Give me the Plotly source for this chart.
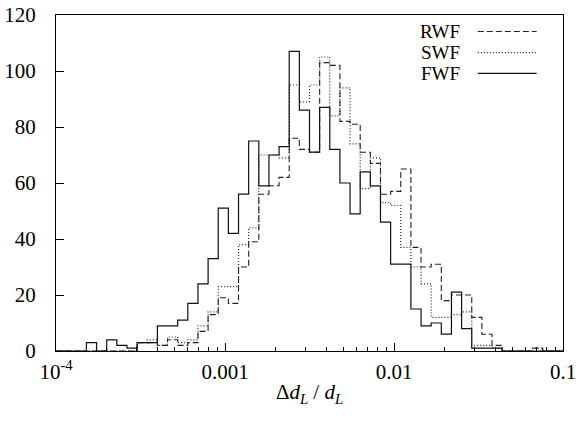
import numpy as np
import plotly.graph_objects as go

# Histogram definition: 50 log-spaced bins over [1e-4, 0.1]
bin_lo = 1e-4
n_bins = 50
dlog = 0.06  # decades per bin

# Counts per bin (k = 0..49)
fwf = [0, 0, 0, 3, 0, 4, 2, 1, 3, 3,
       9, 9, 11, 17, 24, 33, 51, 42, 56, 75,
       59, 70, 73, 107, 86, 71, 87, 72, 60, 49,
       64, 59, 46, 31, 31, 15, 9, 10, 6, 21,
       8, 1, 1, 1, 0, 0, 0, 0, 0, 0]
swf = [0, 0, 0, 0, 0, 0, 0, 0, 3, 4,
       2, 5, 3, 4, 9, 14, 23, 23, 38, 44,
       70, 70, 69, 95, 89, 95, 105, 84, 94, 74,
       58, 69, 53, 52, 37, 30, 24, 12, 12, 13,
       14, 2, 2, 1, 0, 0, 0, 1, 0, 0]
rwf = [0, 0, 0, 0, 0, 0, 0, 0, 3, 3,
       2, 4, 2, 3, 7, 13, 19, 17, 30, 39,
       56, 59, 62, 76, 72, 71, 103, 102, 82, 81,
       71, 67, 56, 57, 65, 37, 30, 31, 18, 20,
       20, 12, 6, 2, 0, 0, 0, 1, 0, 0]

series_names = ["RWF", "SWF", "FWF"]
x_tickvals = [1e-4, 1e-3, 1e-2, 1e-1]
x_ticktext = ["10<sup>-4</sup>", "0.001", "0.01", "0.1"]
y_tickvals = [0, 20, 40, 60, 80, 100, 120]

edges = bin_lo * 10 ** (dlog * np.arange(n_bins + 1))

FONT = "Liberation Serif"
styles = {
    "RWF": dict(dash="6px,3px", width=1.1, color="#222"),
    "SWF": dict(dash="1px,2px", width=1.2, color="#222"),
    "FWF": dict(dash="solid", width=1.2, color="#111"),
}
data = {"RWF": rwf, "SWF": swf, "FWF": fwf}

fig = go.Figure()
for name in series_names:
    c = data[name]
    fig.add_trace(go.Scatter(
        x=edges, y=list(c) + [c[-1]], mode="lines", line_shape="hv",
        line=styles[name], name=name, showlegend=False, hoverinfo="skip"))

# minor ticks on log axis
minor_vals = [m * 10.0 ** e for e in range(-4, -1) for m in range(2, 10)]

fig.update_layout(
    width=580, height=421,
    margin=dict(l=56, r=17, t=15, b=70),
    paper_bgcolor="white", plot_bgcolor="white",
    font=dict(family=FONT, size=21, color="black"),
    xaxis=dict(
        type="log", range=[-4, -1], automargin=False,
        tickmode="array", tickvals=x_tickvals, ticktext=x_ticktext,
        ticks="inside", ticklen=8, tickwidth=1, tickcolor="black",
        minor=dict(tickmode="array", tickvals=minor_vals, ticks="inside",
                   ticklen=4, tickwidth=1, tickcolor="black", showgrid=False),
        showline=True, linecolor="black", linewidth=1, mirror=True,
        showgrid=False, zeroline=False, ticklabelstandoff=2,
        title=dict(text="Δ<i>d</i><sub><i>L</i></sub> / <i>d</i><sub><i>L</i></sub>",
                   font=dict(family=FONT, size=21), standoff=1),
    ),
    yaxis=dict(
        range=[0, 120], tickmode="array", tickvals=y_tickvals, automargin=False,
        ticks="inside", ticklen=8, tickwidth=1, tickcolor="black",
        showline=True, linecolor="black", linewidth=1, mirror=True,
        showgrid=False, zeroline=False, ticklabelstandoff=15,
    ),
)

# manual legend (text left of sample line, gnuplot style)
row_y = [0.951, 0.888, 0.826]
for name, yy in zip(series_names, row_y):
    fig.add_annotation(x=0.80, y=yy, xref="paper", yref="paper", text=name,
                       showarrow=False, xanchor="right", yanchor="middle",
                       font=dict(family=FONT, size=19, color="black"))
    st = styles[name]
    fig.add_shape(type="line", xref="paper", yref="paper",
                  x0=0.832, x1=0.948, y0=yy, y1=yy,
                  line=dict(color=st["color"], width=st["width"], dash=st["dash"]))

fig.write_html(
    "out.html",
    config={"displayModeBar": False},
    post_script="document.body.style.margin='0';document.body.style.overflow='hidden';",
)
